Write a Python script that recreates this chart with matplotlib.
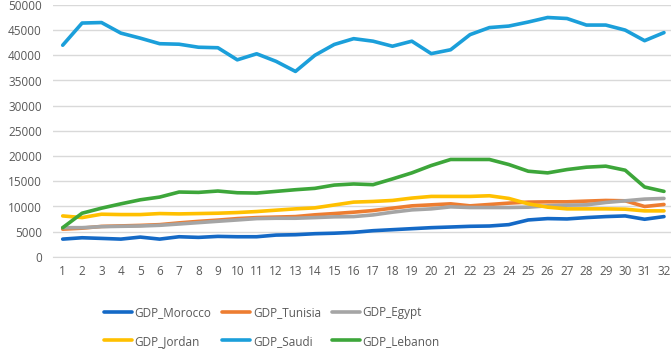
import matplotlib
matplotlib.use("Agg")
import matplotlib.pyplot as plt

years = list(range(1, 33))

gdp_morocco = [3530, 3800, 3670, 3530, 3930, 3530, 4000, 3870, 4070, 4000, 4000, 4330, 4400, 4600, 4700,
               4870, 5200, 5400, 5600, 5800, 5930, 6070, 6130, 6400, 7330, 7600, 7530, 7800, 8000, 8130, 7470, 8000]
gdp_tunisia = [5500, 5700, 6050, 6150, 6250, 6400, 6750, 7050, 7300, 7600, 7800, 7900, 8000, 8350, 8600,
               8870, 9200, 9670, 10130, 10330, 10530, 10130, 10400, 10670, 10870, 10930, 10930, 11070, 11200, 11130, 10000, 10400]
gdp_egypt = [5800, 5800, 6000, 6070, 6130, 6270, 6530, 6800, 7070, 7330, 7600, 7670, 7670, 7800, 7950,
             8000, 8330, 8870, 9330, 9530, 9930, 9800, 9800, 9800, 9870, 10130, 10270, 10330, 10800, 11130, 11470, 11600]
gdp_jordan = [8130, 7800, 8470, 8400, 8400, 8600, 8530, 8600, 8670, 8800, 9000, 9270, 9530, 9730, 10300,
              10870, 11000, 11200, 11670, 12000, 12000, 12000, 12130, 11600, 10530, 9870, 9530, 9530, 9530, 9470, 9130, 9130]
gdp_saudi = [42000, 46400, 46500, 44400, 43400, 42300, 42200, 41600, 41500, 39100, 40300, 38800, 36800, 40000, 42150,
             43300, 42800, 41800, 42800, 40330, 41100, 44100, 45500, 45800, 46600, 47500, 47300, 46000, 46000, 45000, 42900, 44500]
gdp_lebanon = [5800, 8670, 9670, 10530, 11330, 11870, 12870, 12800, 13070, 12730, 12670, 13000, 13330, 13600, 14250,
               14470, 14330, 15470, 16670, 18130, 19330, 19330, 19330, 18330, 17000, 16670, 17330, 17800, 18000, 17200, 13870, 13000]

series_names = ["GDP_Morocco", "GDP_Tunisia", "GDP_Egypt", "GDP_Jordan", "GDP_Saudi", "GDP_Lebanon"]
series_values = [gdp_morocco, gdp_tunisia, gdp_egypt, gdp_jordan, gdp_saudi, gdp_lebanon]
colors = ["#1469C6", "#ED7D31", "#A5A5A5", "#FFC000", "#1B9FDA", "#3DA63A"]

plt.rcParams['font.family'] = ['Open Sans', 'DejaVu Sans']

fig = plt.figure(figsize=(6.71, 3.5), dpi=100)
ax = fig.add_axes([0.079, 0.266, 0.925, 0.72])

lines = []
for name, vals, c in zip(series_names, series_values, colors):
    ln, = ax.plot(years, vals, color=c, lw=2.6, label=name, solid_capstyle='round', solid_joinstyle='round')
    lines.append(ln)

ax.set_xlim(0.5, 32.5)
ax.set_ylim(0, 50000)
ax.set_yticks(range(0, 50001, 5000))
ax.set_xticks(years)
ax.set_xticklabels([str(y) for y in years])
ax.grid(axis='y', color='#D9D9D9', lw=1)
ax.set_axisbelow(True)
for s in ax.spines.values():
    s.set_visible(False)
ax.spines['bottom'].set_visible(True)
ax.spines['bottom'].set_color('#D9D9D9')
ax.tick_params(axis='both', length=0, colors='#595959', labelsize=8.5)
ax.tick_params(axis='x', pad=6)
ax.tick_params(axis='y', pad=8)

# row-major order for a 2x3 legend (matplotlib fills column-major)
order = [0, 3, 1, 4, 2, 5]
fig.legend([lines[i] for i in order], [series_names[i] for i in order], ncol=3,
           loc='center', bbox_to_anchor=(0.405, 0.066),
           frameon=False, fontsize=8.5, handlelength=2.4, handletextpad=0.2,
           columnspacing=0.9, labelspacing=1.3, labelcolor='#595959')

fig.savefig("out.png", dpi=100)
